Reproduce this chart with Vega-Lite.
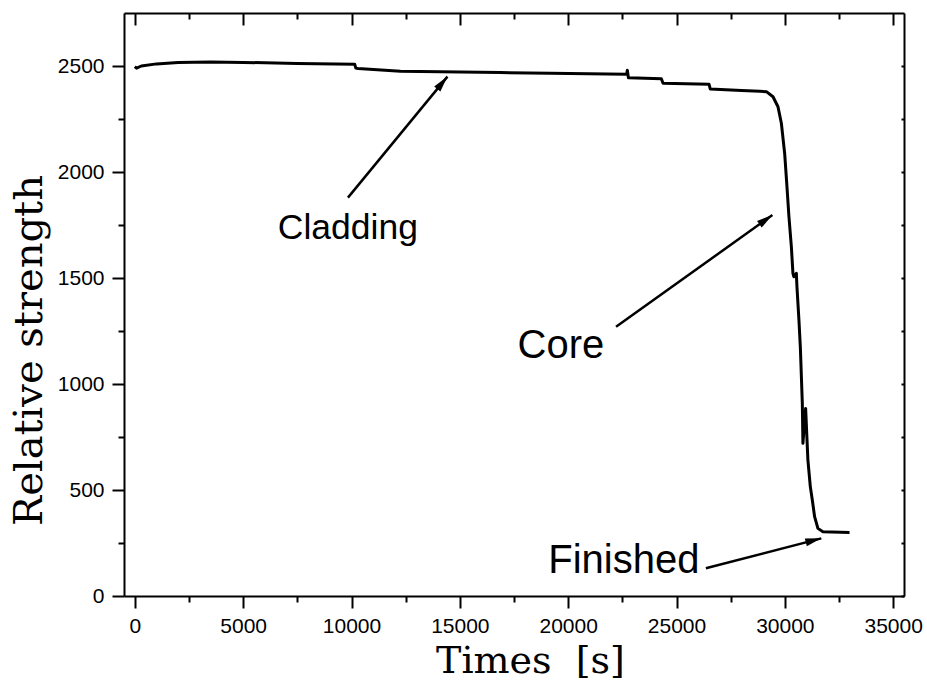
{
  "$schema": "https://vega.github.io/schema/vega-lite/v6.json",
  "width": 780,
  "height": 583,
  "autosize": "none",
  "padding": {"left": 124, "top": 13, "right": 23, "bottom": 90},
  "background": "white",
  "config": {
    "view": {"stroke": null},
    "axis": {
      "domainColor": "black", "domainWidth": 2, "tickColor": "black", "tickWidth": 2,
      "labelFont": "Liberation Sans", "labelFontSize": 21, "labelColor": "black",
      "grid": false, "titleColor": "black"
    }
  },
  "datasets": {
    "series": [
      {"t": 0, "s": 2497}, {"t": 80, "s": 2490}, {"t": 300, "s": 2500}, {"t": 1000, "s": 2510},
      {"t": 2000, "s": 2516}, {"t": 3500, "s": 2519}, {"t": 5000, "s": 2517}, {"t": 7500, "s": 2512},
      {"t": 10150, "s": 2508}, {"t": 10200, "s": 2490}, {"t": 10300, "s": 2488}, {"t": 12260, "s": 2475}, {"t": 16870, "s": 2469},
      {"t": 19170, "s": 2466}, {"t": 22700, "s": 2461}, {"t": 22730, "s": 2480}, {"t": 22780, "s": 2445},
      {"t": 24300, "s": 2440}, {"t": 24380, "s": 2419}, {"t": 26500, "s": 2414}, {"t": 26560, "s": 2391},
      {"t": 28000, "s": 2385}, {"t": 28840, "s": 2381}, {"t": 29164, "s": 2378}, {"t": 29454, "s": 2355},
      {"t": 29684, "s": 2308}, {"t": 29840, "s": 2230}, {"t": 29992, "s": 2088}, {"t": 30098, "s": 1931},
      {"t": 30190, "s": 1789}, {"t": 30301, "s": 1648}, {"t": 30374, "s": 1522}, {"t": 30420, "s": 1506},
      {"t": 30531, "s": 1522}, {"t": 30559, "s": 1459}, {"t": 30651, "s": 1302}, {"t": 30715, "s": 1176},
      {"t": 30807, "s": 909}, {"t": 30835, "s": 720}, {"t": 30960, "s": 885}, {"t": 31065, "s": 641},
      {"t": 31176, "s": 516}, {"t": 31268, "s": 453}, {"t": 31374, "s": 374}, {"t": 31526, "s": 319},
      {"t": 31756, "s": 303}, {"t": 32985, "s": 300}
    ],
    "notes": [
      {"label": "Cladding", "tx": 6599, "ty": 1684, "ax": 9836, "ay": 1879, "bx": 14428, "by": 2450},
      {"label": "Core", "tx": 17665, "ty": 1121, "ax": 22210, "ay": 1270, "bx": 29426, "by": 1797},
      {"label": "Finished", "tx": 19079, "ty": 107, "ax": 26355, "ay": 131, "bx": 31683, "by": 272}
    ]
  },
  "resolve": {"axis": {"x": "independent", "y": "independent"}},
  "layer": [
    {
      "data": {"name": "series"},
      "mark": {"type": "line", "color": "black", "strokeWidth": 3, "strokeJoin": "round"},
      "encoding": {
        "x": {"field": "t", "type": "quantitative", "scale": {"domain": [-500, 35500], "nice": false, "zero": false},
          "axis": {"orient": "bottom", "values": [0, 5000, 10000, 15000, 20000, 25000, 30000, 35000], "format": "d", "tickSize": 12, "labelPadding": 7,
            "title": "Times\u00a0 [s]", "titleFont": "DejaVu Serif", "titleFontSize": 38, "titleFontWeight": "normal", "titleX": 406, "titleY": 76, "titleBaseline": "alphabetic", "titleAlign": "center"}},
        "y": {"field": "s", "type": "quantitative", "scale": {"domain": [0, 2750], "nice": false, "zero": false},
          "axis": {"orient": "left", "values": [0, 500, 1000, 1500, 2000, 2500], "format": "d", "tickSize": 12, "labelPadding": 8,
            "title": "Relative strength", "titleFont": "DejaVu Serif", "titleFontSize": 40, "titleFontWeight": "normal", "titleX": -83, "titleY": 337, "titleBaseline": "alphabetic", "titleAlign": "center", "titleAngle": -90}},
        "order": {"field": "t", "type": "quantitative"}
      }
    },
    {
      "data": {"name": "notes"},
      "mark": {"type": "rule", "color": "black", "strokeWidth": 2.5},
      "encoding": {
        "x": {"field": "ax", "type": "quantitative", "scale": {"domain": [-500, 35500], "nice": false, "zero": false},
          "axis": {"orient": "bottom", "values": [2500, 7500, 12500, 17500, 22500, 27500, 32500], "tickSize": 6, "labels": false, "domain": false, "title": null}},
        "x2": {"field": "bx"},
        "y": {"field": "ay", "type": "quantitative", "scale": {"domain": [0, 2750], "nice": false, "zero": false},
          "axis": {"orient": "left", "values": [250, 750, 1250, 1750, 2250], "tickSize": 6, "labels": false, "domain": false, "title": null}},
        "y2": {"field": "by"}
      }
    },
    {
      "data": {"name": "notes"},
      "transform": [{"filter": "datum.label === 'Cladding'"}],
      "mark": {"type": "text", "align": "left", "baseline": "alphabetic", "font": "Liberation Sans", "fontSize": 35.5, "color": "black"},
      "encoding": {
        "x": {"field": "tx", "type": "quantitative", "scale": {"domain": [-500, 35500], "nice": false, "zero": false},
          "axis": {"orient": "top", "values": [0, 5000, 10000, 15000, 20000, 25000, 30000, 35000], "tickSize": -12, "labels": false, "title": null}},
        "y": {"field": "ty", "type": "quantitative", "scale": {"domain": [0, 2750], "nice": false, "zero": false},
          "axis": {"orient": "right", "values": [0, 500, 1000, 1500, 2000, 2500], "tickSize": -3, "labels": false, "title": null}},
        "text": {"field": "label"}
      }
    },
    {
      "data": {"name": "notes"},
      "transform": [{"filter": "datum.label === 'Core'"}],
      "mark": {"type": "text", "align": "left", "baseline": "alphabetic", "font": "Liberation Sans", "fontSize": 40, "color": "black"},
      "encoding": {
        "x": {"field": "tx", "type": "quantitative", "scale": {"domain": [-500, 35500], "nice": false, "zero": false},
          "axis": {"orient": "top", "values": [2500, 7500, 12500, 17500, 22500, 27500, 32500], "tickSize": -6, "labels": false, "domain": false, "title": null}},
        "y": {"field": "ty", "type": "quantitative", "scale": {"domain": [0, 2750], "nice": false, "zero": false},
          "axis": {"orient": "right", "values": [250, 750, 1250, 1750, 2250], "tickSize": -3, "labels": false, "domain": false, "title": null}},
        "text": {"field": "label"}
      }
    },
    {
      "data": {"name": "notes"},
      "transform": [{"filter": "datum.label === 'Finished'"}],
      "mark": {"type": "text", "align": "left", "baseline": "alphabetic", "font": "Liberation Sans", "fontSize": 40, "color": "black"},
      "encoding": {
        "x": {"field": "tx", "type": "quantitative", "scale": {"domain": [-500, 35500], "nice": false, "zero": false}, "axis": null},
        "y": {"field": "ty", "type": "quantitative", "scale": {"domain": [0, 2750], "nice": false, "zero": false}, "axis": null},
        "text": {"field": "label"}
      }
    },
    {
      "data": {"name": "notes"},
      "transform": [{"filter": "datum.label === 'Cladding'"}],
      "mark": {"type": "point", "shape": "M0,0 L-0.5,2 L0.5,2 Z", "size": 256, "filled": true, "color": "black", "opacity": 1, "angle": 39.4},
      "encoding": {
        "x": {"field": "bx", "type": "quantitative", "scale": {"domain": [-500, 35500], "nice": false, "zero": false}, "axis": null},
        "y": {"field": "by", "type": "quantitative", "scale": {"domain": [0, 2750], "nice": false, "zero": false}, "axis": null}
      }
    },
    {
      "data": {"name": "notes"},
      "transform": [{"filter": "datum.label === 'Core'"}],
      "mark": {"type": "point", "shape": "M0,0 L-0.5,2 L0.5,2 Z", "size": 256, "filled": true, "color": "black", "opacity": 1, "angle": 54.5},
      "encoding": {
        "x": {"field": "bx", "type": "quantitative", "scale": {"domain": [-500, 35500], "nice": false, "zero": false}, "axis": null},
        "y": {"field": "by", "type": "quantitative", "scale": {"domain": [0, 2750], "nice": false, "zero": false}, "axis": null}
      }
    },
    {
      "data": {"name": "notes"},
      "transform": [{"filter": "datum.label === 'Finished'"}],
      "mark": {"type": "point", "shape": "M0,0 L-0.5,2 L0.5,2 Z", "size": 256, "filled": true, "color": "black", "opacity": 1, "angle": 75.5},
      "encoding": {
        "x": {"field": "bx", "type": "quantitative", "scale": {"domain": [-500, 35500], "nice": false, "zero": false}, "axis": null},
        "y": {"field": "by", "type": "quantitative", "scale": {"domain": [0, 2750], "nice": false, "zero": false}, "axis": null}
      }
    }
  ]
}
